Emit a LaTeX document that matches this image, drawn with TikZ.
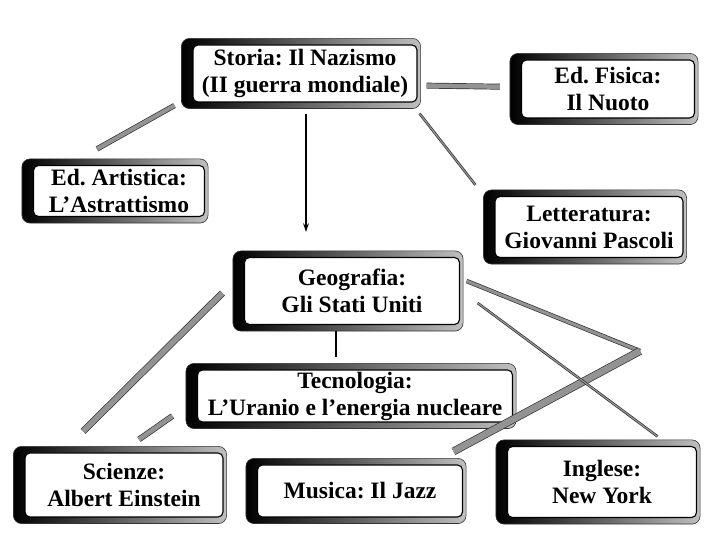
\documentclass[tikz,border=0pt]{standalone}
\usepackage{fontspec}
\setmainfont{Liberation Serif}
\frenchspacing
\usetikzlibrary{arrows.meta,calc,positioning,fit,backgrounds}
\tikzset{face/.style 2 args={draw=black,line width=1.1pt,fill=white,rounded corners=5pt,align=center,
  minimum width=#1pt,minimum height=#2pt,inner sep=1pt,font=\fontsize{23.5}{27}\selectfont\bfseries},
  bevel/.style={draw=gray!40!black,line width=0.6pt,rounded corners=8pt,left color=black,right color=gray!50,inner sep=0pt},
  bar/.style={draw=black!80,line width=0.7pt,double=gray!85,double distance=#1pt},bar/.default=5,
  arr/.style={-{Stealth[length=3mm,width=2mm]},line width=1.4pt}}
\begin{document}
\begin{tikzpicture}[x=1pt,y=1pt]
\useasboundingbox (0,0) rectangle (720,540);
% topic boxes
\node[face={224}{57}] (storia) at (305,466.5) {Storia: Il Nazismo\\(II guerra mondiale)};
\node[face={173}{58}] (fisica) at (608,451) {Ed. Fisica:\\Il Nuoto};
\node[face={171}{51}] (artistica) at (119,349) {Ed. Artistica:\\L'Astrattismo};
\node[face={188}{61}] (letteratura) at (589,313) {Letteratura:\\Giovanni Pascoli};
\node[face={215}{67}] (geografia) at (352,249) {Geografia:\\Gli Stati Uniti};
\node[face={315}{52}] (tecnologia) at (355,144) {Tecnologia:\\L'Uranio e l'energia nucleare};
\node[face={198}{64}] (scienze) at (124,55) {Scienze:\\Albert Einstein};
\node[face={205}{52}] (musica) at (360,49) {Musica: Il Jazz};
\node[face={189}{71}] (inglese) at (602,58) {Inglese:\\New York};
\begin{scope}[on background layer]
\foreach \b in {storia,fisica,artistica,letteratura,geografia,tecnologia,scienze,musica,inglese}
  \node[bevel,fit={([shift={(-11,6)}]\b.north west) ([shift={(3,-6)}]\b.south east)}] {};
\end{scope}
% links
\coordinate (bend) at (640,189);
\draw[bar=4.5,shorten <=21pt,shorten >=9pt] ([yshift=2pt]fisica.west) -- ([yshift=-12pt]storia.east);
\draw[bar=4] ([shift={(-22,16)}]artistica.north) -- ([shift={(-18,-3)}]storia.south west);
\draw[arr,shorten <=11pt,shorten >=25pt] ([xshift=1pt]storia.south) -- ([xshift=1pt]storia.south |- geografia.north);
\draw[bar=1.2] ([shift={(2,-11)}]storia.south east) -- ([shift={(-19,11)}]letteratura.north west);
\draw[line width=1.4pt,shorten <=6pt,shorten >=12pt] ([xshift=-16pt]geografia.south) -- ([xshift=-16pt]geografia.south |- tecnologia.north);
\draw[bar=5.5] ([shift={(-41,21)}]scienze.north) -- ([shift={(-21.5,-2)}]geografia.west);
\draw[bar=4.5] ([shift={(15,13)}]scienze.north) -- ([shift={(-24.5,-20)}]tecnologia.west);
\draw[bar=3] ([shift={(6.5,10)}]geografia.east) -- (bend);
\draw[bar=6.5] (bend) -- ([shift={(-9.5,13)}]musica.north east);
\draw[bar=1.2] ([shift={(17.5,-12)}]geografia.east) -- ([shift={(-39.5,9.5)}]inglese.north east);
\end{tikzpicture}
\end{document}
